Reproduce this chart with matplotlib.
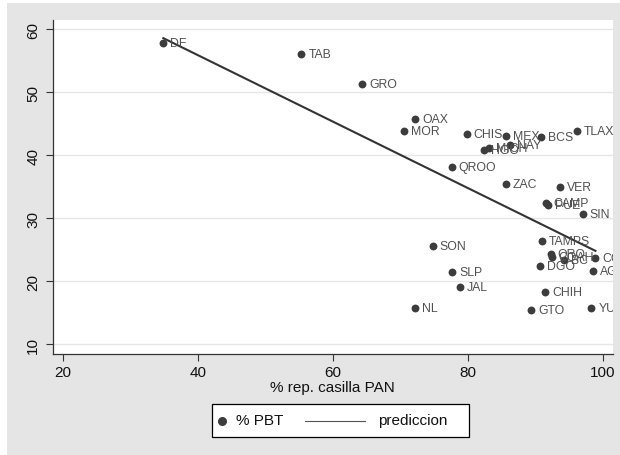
import matplotlib.pyplot as plt
from matplotlib.patches import Rectangle
from matplotlib.lines import Line2D

# state, % rep. casilla PAN, % PBT
states = ['DF', 'TAB', 'GRO', 'OAX', 'MOR', 'CHIS', 'MEX', 'BCS', 'TLAX', 'NAY',
          'HGO', 'MICH', 'QROO', 'ZAC', 'VER', 'CAMP', 'PUE', 'SIN', 'SON', 'SLP',
          'JAL', 'NL', 'TAMPS', 'QRO', 'COAH', 'BC', 'COL', 'AGS', 'DGO', 'CHIH',
          'GTO', 'YUC']
rep_pan = [34.9, 55.35, 64.4, 72.2, 70.6, 79.85, 85.7, 90.9, 96.15, 86.3,
           82.4, 83.2, 77.6, 85.6, 93.7, 91.6, 91.9, 97.0, 74.8, 77.7,
           78.8, 72.2, 91.0, 92.3, 92.4, 94.2, 98.9, 98.6, 90.7, 91.45,
           89.4, 98.3]
pbt = [57.8, 56.1, 51.3, 45.75, 43.9, 43.3, 43.1, 42.9, 43.8, 41.6,
       40.8, 41.1, 38.2, 35.4, 35.0, 32.35, 32.1, 30.6, 25.5, 21.5,
       19.1, 15.8, 26.3, 24.3, 23.9, 23.4, 23.6, 21.65, 22.35, 18.2,
       15.45, 15.7]

# prediccion (fitted line), read at its two ends
pred_x = [34.9, 98.9]
pred_y = [58.6, 24.8]

xticks = [20, 40, 60, 80, 100]
yticks = [10, 20, 30, 40, 50, 60]

plt.rcParams['font.family'] = ['Liberation Sans', 'DejaVu Sans']

W, H = 620, 456
fx = lambda px: px / W
fy = lambda py: 1 - py / H

fig = plt.figure(figsize=(6.2, 4.56), dpi=100)
fig.patch.set_facecolor('white')
fig.patches.append(Rectangle((fx(7), 0), 1, 1 - 4/H, transform=fig.transFigure,
                             facecolor='#e5e5e5', edgecolor='none', zorder=-10))

ax = fig.add_axes([fx(52.7), fy(354.7), (613 - 52.7)/W, (354.7 - 20.7)/H])
ax.set_facecolor('white')
ax.set_xlim(18.52, 101.5)
ax.set_ylim(8.46, 61.53)

for yv in yticks:
    ax.axhline(yv, color='#e6e6e6', lw=1.0, zorder=0)

mk = '#3c3c3c'
ax.scatter(rep_pan, pbt, s=32, color=mk, zorder=3, linewidths=0)
ax.plot(pred_x, pred_y, color='#333333', lw=1.5, zorder=4)

for s, x, y in zip(states, rep_pan, pbt):
    ax.annotate(s, (x, y), xytext=(5, 0), textcoords='offset points',
                va='center', ha='left', fontsize=8.8, color='#505050',
                zorder=5, annotation_clip=False, clip_on=True)

ax.set_xticks(xticks)
ax.set_yticks(yticks)
ax.tick_params(axis='both', length=5, width=0.8, color='#333333',
               labelsize=11, labelcolor='#111111')
ax.tick_params(axis='y', pad=4)
for lab in ax.get_yticklabels():
    lab.set_rotation(90)
    lab.set_va('center')
ax.tick_params(axis='x', pad=3)

for side in ['top', 'right']:
    ax.spines[side].set_visible(False)
for side in ['left', 'bottom']:
    ax.spines[side].set_color('#333333')
    ax.spines[side].set_linewidth(0.9)

ax.set_xlabel('% rep. casilla PAN', fontsize=11, color='#111111', labelpad=1)

# legend drawn by hand to match the Stata layout
fig.patches.append(Rectangle((fx(211.7), fy(438)), (469 - 211.7)/W, (438 - 405)/H,
                             transform=fig.transFigure, facecolor='white',
                             edgecolor='black', lw=0.9, zorder=5))
ly = fy(421.5)
fig.add_artist(Line2D([fx(222)], [ly], marker='o', ls='none', color=mk,
                      markersize=5.5, transform=fig.transFigure, zorder=6))
fig.text(fx(236), ly, '% PBT', fontsize=11, va='center', ha='left',
         color='#111111', zorder=6)
fig.add_artist(Line2D([fx(305), fx(365)], [ly, ly], color='#555555', lw=0.8,
                      transform=fig.transFigure, zorder=6))
fig.text(fx(378), ly, 'prediccion', fontsize=11, va='center', ha='left',
         color='#111111', zorder=6)

fig.savefig('out.png', dpi=100)
